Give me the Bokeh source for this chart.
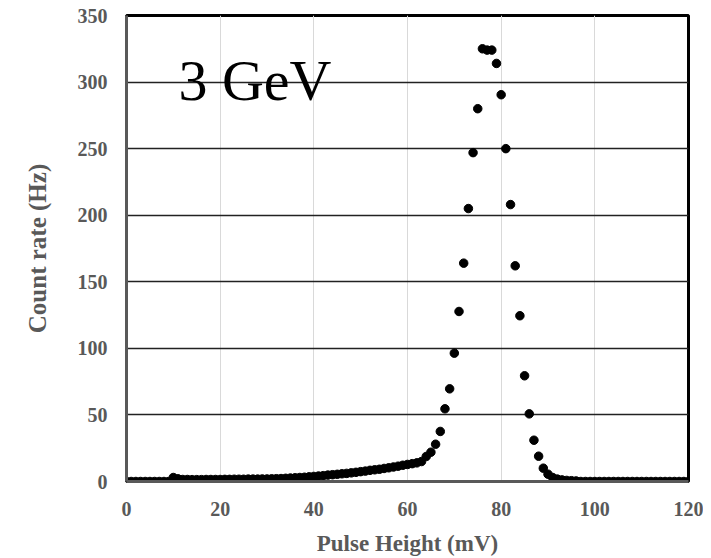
from bokeh.plotting import figure
from bokeh.models import Label, Range1d, FixedTicker
from bokeh.embed import file_html
from bokeh.resources import INLINE

pulse_height = list(range(0, 121))
count_rate = (
    [0.0] * 10
    + [3.0, 2.0, 1.5, 1.5, 1.4, 1.4, 1.4, 1.5, 1.5, 1.5, 1.5]
    + [1.6, 1.6, 1.7, 1.7, 1.7, 1.8, 1.8, 1.8, 1.9, 1.9]
    + [2.0, 2.1, 2.2, 2.4, 2.6, 2.8, 3.0, 3.2, 3.5, 3.8]
    + [4.1, 4.4, 4.8, 5.1, 5.4, 5.8, 6.1, 6.5, 6.9, 7.4]
    + [7.8, 8.4, 8.8, 9.2, 9.8, 10.3, 10.9, 11.5, 12.2, 12.8]
    + [13.4, 14.0, 15.0, 18.8, 22.0, 28.0, 37.6, 54.6, 69.6, 96.4]
    + [127.7, 164.0, 205.0, 247.0, 280.0, 325.0, 324.0, 324.0, 314.0, 290.5]
    + [250.0, 208.0, 162.0, 124.5, 79.4, 50.8, 31.0, 19.0, 10.0, 5.5]
    + [3.0, 1.8, 1.2, 0.8, 0.6, 0.4]
    + [0.0] * 24
)
x_ticks = [0, 20, 40, 60, 80, 100, 120]
y_ticks = [0, 50, 100, 150, 200, 250, 300, 350]
energy_label = "3 GeV"

p = figure(width=703, height=558, output_backend="svg", toolbar_location=None,
           x_range=Range1d(0, 120), y_range=Range1d(0, 350),
           min_border_left=126, min_border_right=15, min_border_top=15, min_border_bottom=70)

p.scatter(pulse_height, count_rate, size=8.5, color="black")

p.outline_line_color = "black"
p.outline_line_width = 3

p.xaxis.ticker = FixedTicker(ticks=x_ticks)
p.yaxis.ticker = FixedTicker(ticks=y_ticks)
for ax in (p.xaxis[0], p.yaxis[0]):
    ax.major_tick_line_color = None
    ax.minor_tick_line_color = None
    ax.major_tick_out = 0
    ax.major_tick_in = 0
    ax.axis_line_color = "#595959"
    ax.axis_line_width = 3
    ax.major_label_text_font = "Liberation Serif"
    ax.major_label_text_font_style = "bold"
    ax.major_label_text_font_size = "20px"
    ax.major_label_text_color = "#595959"
    ax.axis_label_text_font = "Liberation Serif"
    ax.axis_label_text_font_style = "bold"
    ax.axis_label_text_color = "#595959"

p.xaxis.axis_label = "Pulse Height (mV)"
p.yaxis.axis_label = "Count rate (Hz)"
p.xaxis.axis_label_text_font_size = "23px"
p.yaxis.axis_label_text_font_size = "25px"
p.xaxis.major_label_standoff = 20
p.xaxis.axis_label_standoff = 12
p.yaxis.major_label_standoff = 19
p.yaxis.axis_label_standoff = 24

p.xgrid.grid_line_color = "#d9d9d9"
p.xgrid.grid_line_width = 1
p.ygrid.grid_line_color = "#222222"
p.ygrid.grid_line_width = 1.5

p.add_layout(Label(x=11.1, y=301, text=energy_label, text_font="Liberation Serif",
                   text_font_size="58px", text_color="black", text_baseline="alphabetic"))

open("out.html", "w").write(file_html(p, INLINE))
